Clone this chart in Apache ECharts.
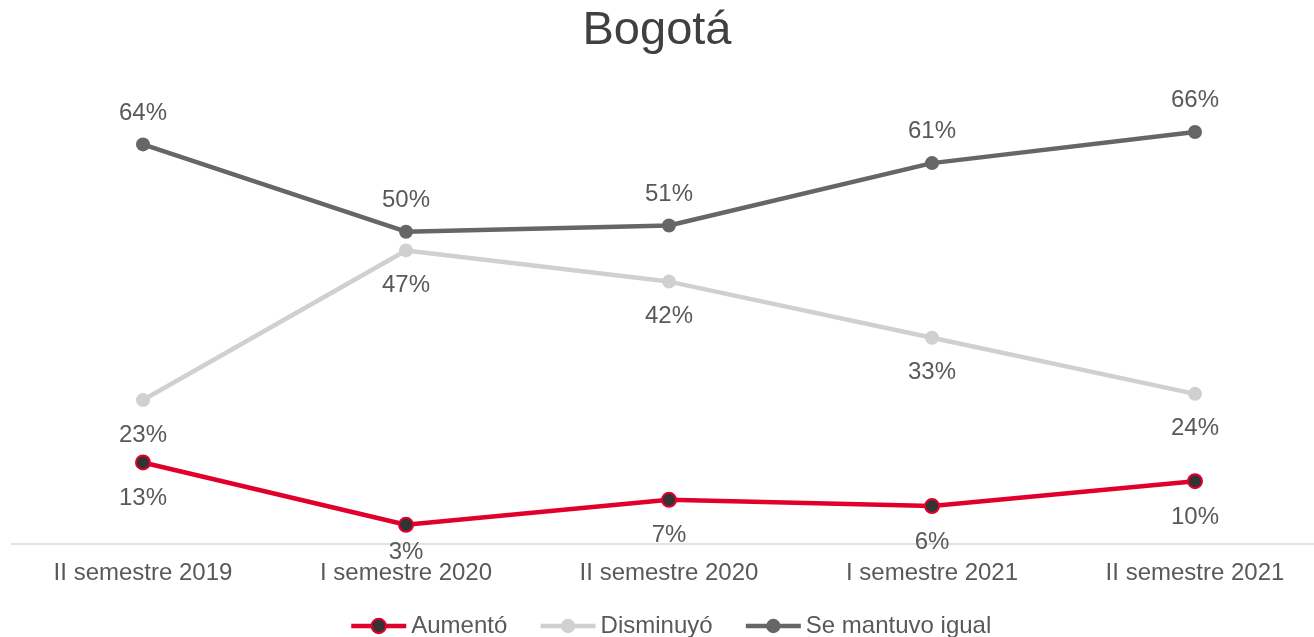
<!DOCTYPE html>
<html>
<head>
<meta charset="utf-8">
<title>Bogotá</title>
<script src="https://cdn.jsdelivr.net/npm/echarts@6/dist/echarts.min.js"></script>
<style>
  html, body { margin: 0; padding: 0; background: #fff; }
  #chart { width: 1314px; height: 637px; }
</style>
</head>
<body>
<div id="chart"></div>
<script>
var categories = ['II semestre 2019', 'I semestre 2020', 'II semestre 2020', 'I semestre 2021', 'II semestre 2021']
var aumento = [13, 3, 7, 6, 10]
var disminuyo = [23, 47, 42, 33, 24]
var seMantuvo = [64, 50, 51, 61, 66]

var labelStyle = function (pos, dist) {
  return {
    show: true,
    position: pos,
    distance: dist,
    color: '#595959',
    fontSize: 24,
    fontFamily: 'Liberation Sans, Arial, sans-serif',
    formatter: '{c}%'
  }
}

// the 3% label sits closer to its point so it does not hit the axis labels
var aumentoData = aumento.map(function (v, i) {
  return i === 1 ? { value: v, label: { distance: 8 } } : v
})

var chart = echarts.init(document.getElementById('chart'))
chart.setOption({
  animation: false,
  textStyle: { fontFamily: 'Liberation Sans, Arial, sans-serif' },
  title: {
    text: 'Bogotá',
    left: 'center',
    top: 3,
    textStyle: { fontSize: 47, fontWeight: 'normal', color: '#404040' }
  },
  legend: {
    top: 609,
    left: 344,
    itemWidth: 55,
    itemHeight: 18,
    itemGap: 31,
    lineStyle: { width: 4.5 },
    textStyle: { fontSize: 24, color: '#595959' },
    data: ['Aumentó', 'Disminuyó', 'Se mantuvo igual']
  },
  grid: {
    left: 11.5,
    right: -12.5,
    top: 107,
    height: 436.5,
    outerBoundsMode: 'none',
    containLabel: false
  },
  xAxis: {
    type: 'category',
    data: categories,
    axisTick: { show: false },
    axisLine: { lineStyle: { color: '#d9d9d9', width: 1.5 } },
    axisLabel: { color: '#595959', fontSize: 24, margin: 18 }
  },
  yAxis: {
    type: 'value',
    min: 0,
    max: 70,
    show: false,
    splitLine: { show: false }
  },
  series: [
    {
      name: 'Aumentó',
      type: 'line',
      data: aumentoData,
      symbol: 'circle',
      symbolSize: 14,
      lineStyle: { color: '#e0002b', width: 4.5 },
      itemStyle: { color: '#333333', borderColor: '#e0002b', borderWidth: 2 },
      label: labelStyle('bottom', 16),
      z: 4
    },
    {
      name: 'Disminuyó',
      type: 'line',
      data: disminuyo,
      symbol: 'circle',
      symbolSize: 14,
      lineStyle: { color: '#d0d0d0', width: 4.5 },
      itemStyle: { color: '#d0d0d0' },
      label: labelStyle('bottom', 16),
      z: 2
    },
    {
      name: 'Se mantuvo igual',
      type: 'line',
      data: seMantuvo,
      symbol: 'circle',
      symbolSize: 14,
      lineStyle: { color: '#666666', width: 4.5 },
      itemStyle: { color: '#666666' },
      label: labelStyle('top', 12.5),
      z: 3
    }
  ]
})
</script>
</body>
</html>
